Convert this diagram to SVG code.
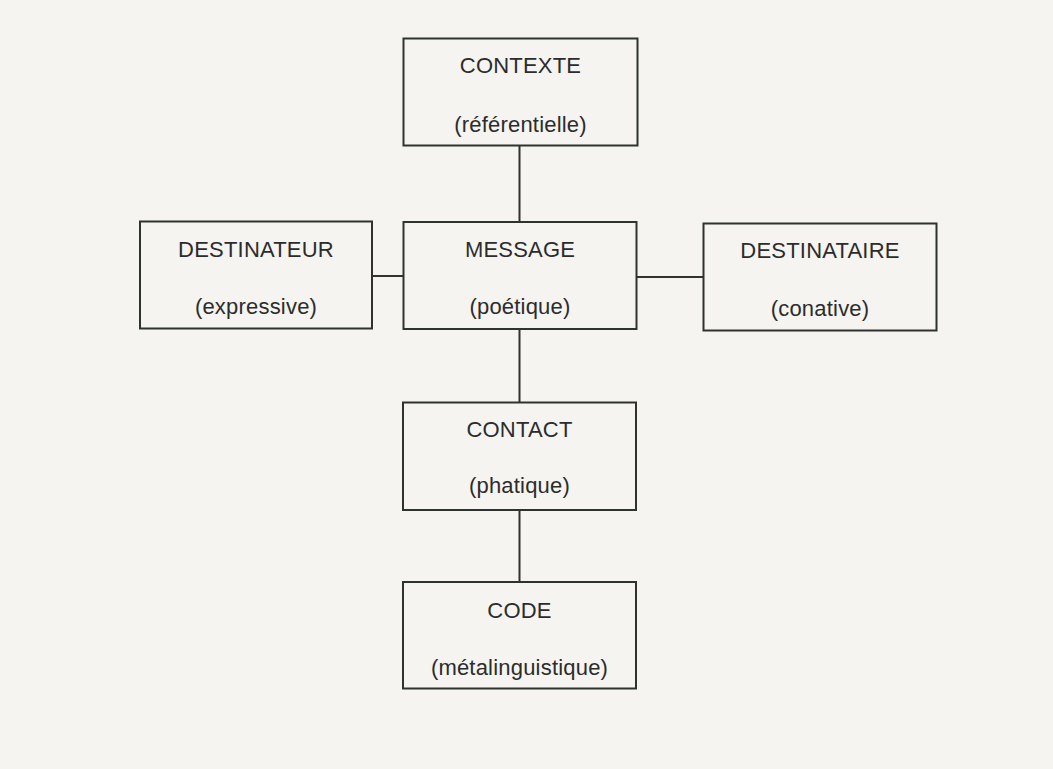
<svg xmlns="http://www.w3.org/2000/svg" width="1053" height="769" viewBox="0 0 1053 769">
<style>
.box{fill:none;stroke:#2f332f;stroke-width:2}
.edge{fill:none;stroke:#2f332f;stroke-width:2}
text{font-family:"Liberation Sans",Arial,sans-serif;font-size:22px;fill:#2c2c2c;text-anchor:middle;letter-spacing:0.2px}
</style>
<rect x="0" y="0" width="1053" height="769" fill="#f5f4f0"/>
<g id="connectors">
<line class="edge" x1="519.5" y1="145" x2="519.5" y2="222"/>
<line class="edge" x1="372" y1="276" x2="403" y2="276"/>
<line class="edge" x1="637" y1="277" x2="703" y2="277"/>
<line class="edge" x1="519.5" y1="329" x2="519.5" y2="402"/>
<line class="edge" x1="519.5" y1="510" x2="519.5" y2="582"/>
</g>
<g id="contexte">
<rect class="box" x="403.5" y="38.5" width="234" height="107"/>
<text x="520.5" y="73">CONTEXTE</text>
<text x="520.5" y="132">(référentielle)</text>
</g>
<g id="destinateur">
<rect class="box" x="140" y="221.5" width="232" height="107"/>
<text x="256" y="257">DESTINATEUR</text>
<text x="256" y="314">(expressive)</text>
</g>
<g id="message">
<rect class="box" x="403.5" y="222" width="233" height="107"/>
<text x="520" y="257">MESSAGE</text>
<text x="520" y="314">(poétique)</text>
</g>
<g id="destinataire">
<rect class="box" x="703.5" y="223.5" width="233" height="107"/>
<text x="820" y="258">DESTINATAIRE</text>
<text x="820" y="316">(conative)</text>
</g>
<g id="contact">
<rect class="box" x="403" y="402.5" width="233" height="107.5"/>
<text x="519.5" y="437">CONTACT</text>
<text x="519.5" y="493">(phatique)</text>
</g>
<g id="code">
<rect class="box" x="403" y="582" width="233" height="106.5"/>
<text x="519.5" y="618">CODE</text>
<text x="519.5" y="675">(métalinguistique)</text>
</g>
</svg>
